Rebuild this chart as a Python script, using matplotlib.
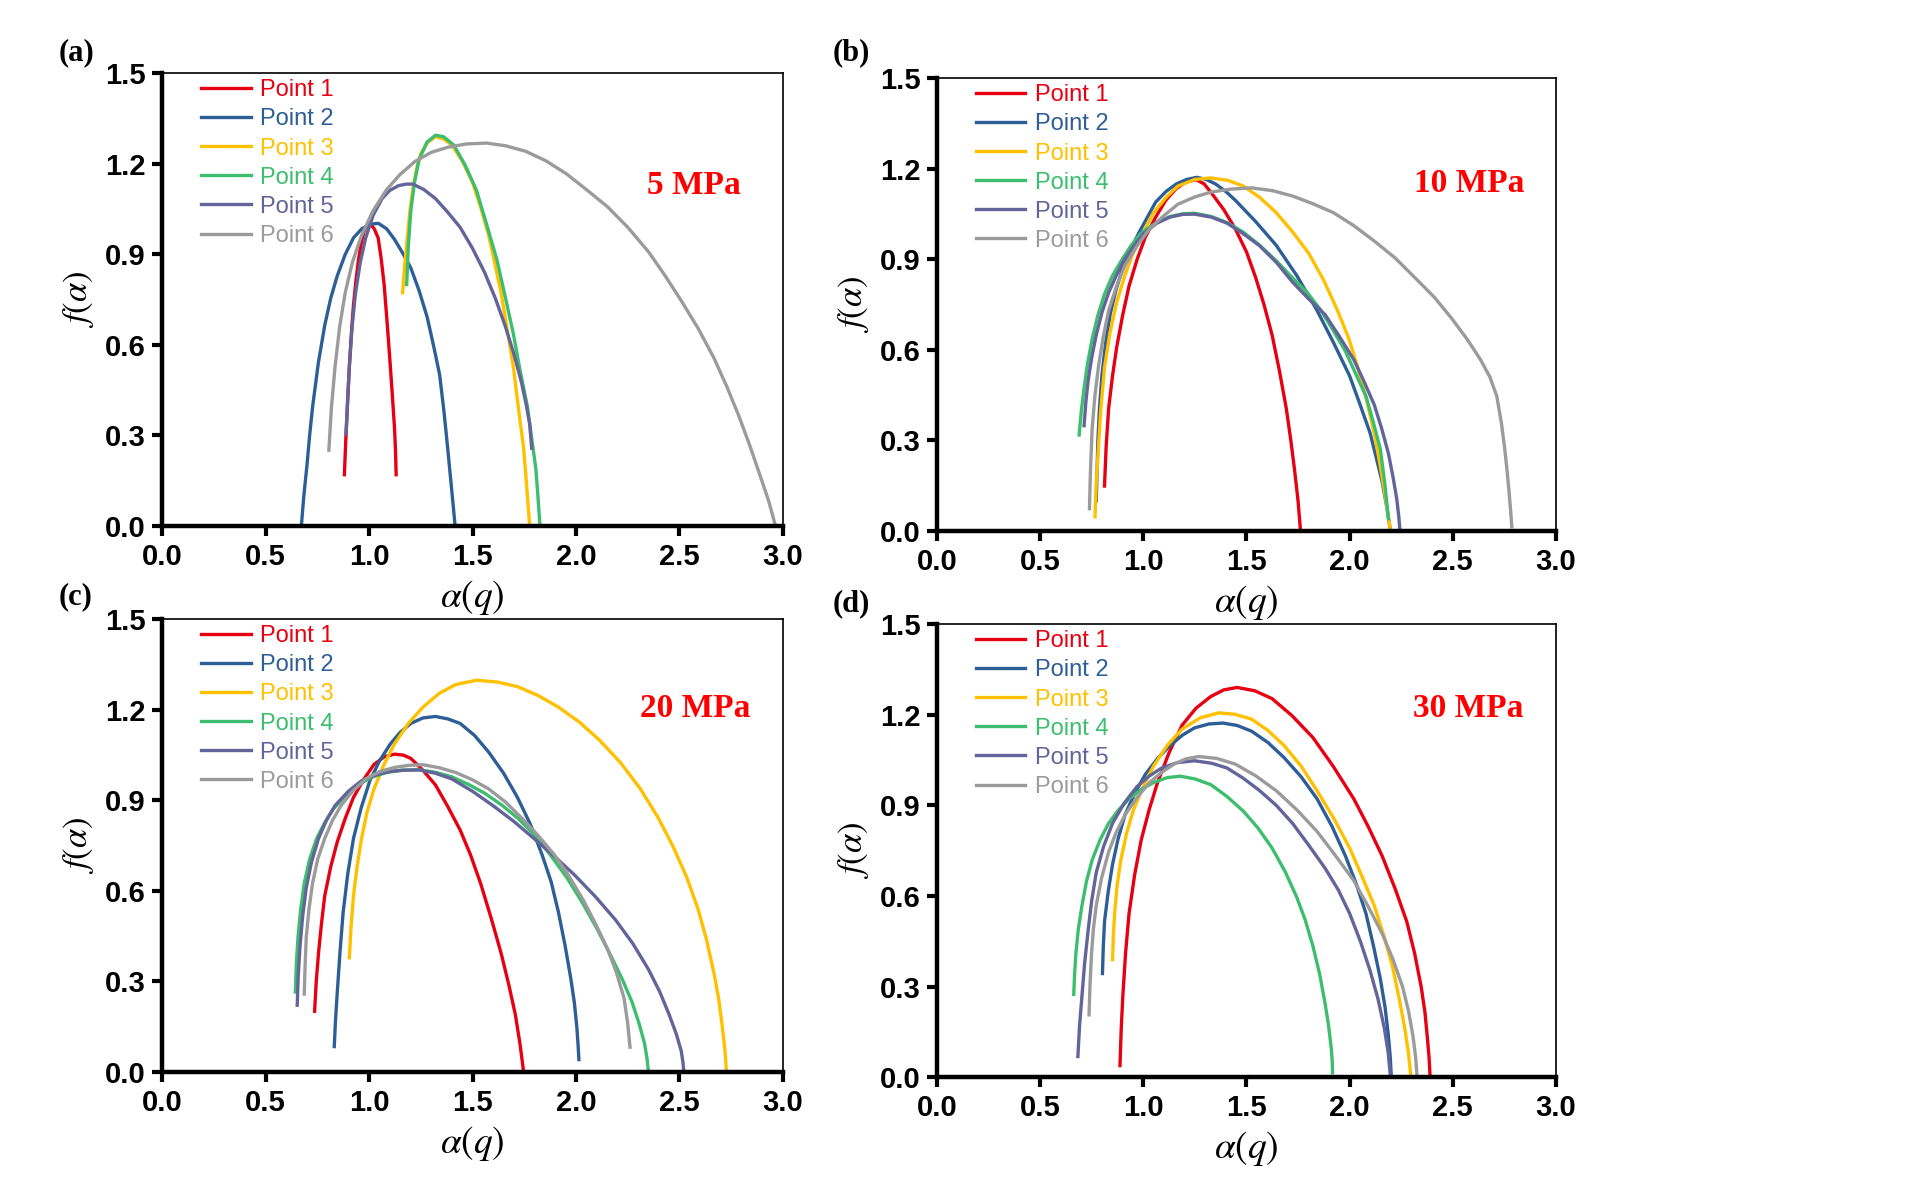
import numpy as np
import matplotlib
matplotlib.use('Agg')
import matplotlib.pyplot as plt

plt.rcParams['mathtext.fontset'] = 'stix'

labels = ['Point 1', 'Point 2', 'Point 3', 'Point 4', 'Point 5', 'Point 6']
colors = ['#E60012', '#2E5E96', '#FFC000', '#3CBE6E', '#62649A', '#9B9B9B']

# ---- (a) 5 MPa ----
a5_p1_x = [0.881, 0.885, 0.889, 0.897, 0.905, 0.915, 0.925, 0.937, 0.949, 0.962, 0.974, 0.986, 0.998, 1.010, 1.025, 1.044, 1.058, 1.073, 1.088, 1.103, 1.113, 1.123, 1.128, 1.131]
a5_p1_y = [0.170, 0.240, 0.305, 0.420, 0.529, 0.640, 0.733, 0.815, 0.882, 0.935, 0.972, 0.992, 1.000, 0.998, 0.985, 0.955, 0.890, 0.800, 0.670, 0.529, 0.430, 0.326, 0.250, 0.170]
a5_p2_x = [0.673, 0.685, 0.700, 0.713, 0.727, 0.755, 0.786, 0.815, 0.846, 0.885, 0.925, 0.965, 1.005, 1.045, 1.085, 1.123, 1.162, 1.202, 1.242, 1.281, 1.311, 1.341, 1.362, 1.380, 1.398, 1.416]
a5_p2_y = [0.000, 0.100, 0.200, 0.300, 0.393, 0.540, 0.665, 0.755, 0.828, 0.900, 0.955, 0.985, 1.000, 1.003, 0.985, 0.950, 0.905, 0.855, 0.780, 0.692, 0.600, 0.502, 0.380, 0.258, 0.130, 0.000]
a5_p3_x = [1.162, 1.172, 1.182, 1.197, 1.212, 1.232, 1.251, 1.285, 1.321, 1.360, 1.400, 1.450, 1.499, 1.540, 1.578, 1.608, 1.638, 1.668, 1.697, 1.722, 1.747, 1.762, 1.776]
a5_p3_y = [0.773, 0.860, 0.936, 1.040, 1.120, 1.190, 1.235, 1.272, 1.290, 1.283, 1.262, 1.210, 1.140, 1.055, 0.963, 0.870, 0.773, 0.650, 0.529, 0.390, 0.258, 0.130, 0.000]
a5_p4_x = [1.182, 1.190, 1.202, 1.220, 1.242, 1.280, 1.321, 1.360, 1.410, 1.465, 1.519, 1.568, 1.618, 1.658, 1.697, 1.730, 1.766, 1.786, 1.806, 1.816, 1.826]
a5_p4_y = [0.800, 0.930, 1.045, 1.140, 1.215, 1.272, 1.295, 1.290, 1.262, 1.195, 1.113, 1.000, 0.882, 0.760, 0.638, 0.515, 0.393, 0.290, 0.190, 0.100, 0.000]
a5_p5_x = [0.889, 0.897, 0.905, 0.918, 0.935, 0.958, 0.984, 1.020, 1.063, 1.100, 1.143, 1.180, 1.212, 1.265, 1.321, 1.380, 1.440, 1.500, 1.558, 1.610, 1.657, 1.700, 1.737, 1.760, 1.776, 1.786]
a5_p5_y = [0.305, 0.420, 0.529, 0.660, 0.773, 0.875, 0.955, 1.030, 1.085, 1.112, 1.128, 1.133, 1.133, 1.115, 1.085, 1.040, 0.990, 0.920, 0.841, 0.755, 0.665, 0.570, 0.475, 0.400, 0.339, 0.258]
a5_p6_x = [0.806, 0.818, 0.836, 0.858, 0.885, 0.920, 0.964, 1.020, 1.083, 1.150, 1.222, 1.300, 1.380, 1.470, 1.568, 1.660, 1.756, 1.855, 1.954, 2.050, 2.152, 2.250, 2.350, 2.430, 2.509, 2.590, 2.667, 2.730, 2.786, 2.838, 2.885, 2.930, 2.964]
a5_p6_y = [0.251, 0.390, 0.529, 0.660, 0.773, 0.875, 0.963, 1.045, 1.113, 1.165, 1.208, 1.238, 1.255, 1.266, 1.269, 1.260, 1.242, 1.210, 1.167, 1.115, 1.058, 0.990, 0.909, 0.830, 0.746, 0.655, 0.556, 0.460, 0.366, 0.270, 0.176, 0.085, 0.000]

# ---- (b) 10 MPa ----
b10_p1_x = [0.812, 0.820, 0.832, 0.850, 0.871, 0.900, 0.931, 0.970, 1.010, 1.060, 1.109, 1.160, 1.208, 1.257, 1.295, 1.327, 1.390, 1.446, 1.500, 1.545, 1.585, 1.624, 1.660, 1.693, 1.715, 1.733, 1.750, 1.762]
b10_p1_y = [0.149, 0.280, 0.406, 0.510, 0.609, 0.715, 0.812, 0.900, 0.974, 1.040, 1.096, 1.135, 1.157, 1.164, 1.150, 1.123, 1.065, 1.001, 0.925, 0.839, 0.750, 0.650, 0.530, 0.406, 0.300, 0.203, 0.100, 0.000]
b10_p2_x = [0.772, 0.776, 0.780, 0.788, 0.800, 0.818, 0.840, 0.868, 0.900, 0.940, 0.980, 1.020, 1.060, 1.110, 1.160, 1.210, 1.260, 1.305, 1.350, 1.400, 1.446, 1.545, 1.644, 1.745, 1.842, 1.925, 2.000, 2.050, 2.099, 2.130, 2.158, 2.180, 2.198]
b10_p2_y = [0.100, 0.200, 0.300, 0.410, 0.520, 0.625, 0.720, 0.800, 0.870, 0.935, 0.990, 1.040, 1.090, 1.125, 1.150, 1.165, 1.172, 1.165, 1.150, 1.125, 1.096, 1.025, 0.947, 0.845, 0.731, 0.620, 0.514, 0.420, 0.325, 0.240, 0.162, 0.080, 0.000]
b10_p3_x = [0.766, 0.772, 0.782, 0.795, 0.812, 0.838, 0.871, 0.910, 0.950, 1.000, 1.050, 1.110, 1.168, 1.250, 1.327, 1.410, 1.485, 1.565, 1.644, 1.725, 1.802, 1.875, 1.941, 1.995, 2.040, 2.080, 2.119, 2.145, 2.168, 2.185, 2.198]
b10_p3_y = [0.047, 0.160, 0.271, 0.410, 0.541, 0.655, 0.758, 0.845, 0.920, 0.990, 1.055, 1.105, 1.143, 1.165, 1.170, 1.162, 1.143, 1.105, 1.055, 0.990, 0.920, 0.830, 0.731, 0.640, 0.541, 0.440, 0.325, 0.230, 0.135, 0.060, 0.000]
b10_p4_x = [0.689, 0.700, 0.713, 0.730, 0.752, 0.780, 0.812, 0.850, 0.891, 0.940, 0.990, 1.060, 1.129, 1.190, 1.248, 1.330, 1.406, 1.485, 1.564, 1.645, 1.723, 1.795, 1.861, 1.920, 1.980, 2.030, 2.079, 2.115, 2.149, 2.170, 2.188]
b10_p4_y = [0.318, 0.400, 0.474, 0.555, 0.636, 0.715, 0.785, 0.845, 0.893, 0.945, 0.988, 1.020, 1.042, 1.051, 1.053, 1.042, 1.022, 0.990, 0.947, 0.895, 0.839, 0.790, 0.731, 0.665, 0.595, 0.520, 0.447, 0.360, 0.271, 0.160, 0.041]
b10_p5_x = [0.713, 0.722, 0.733, 0.750, 0.772, 0.800, 0.832, 0.868, 0.905, 0.950, 1.000, 1.065, 1.129, 1.190, 1.248, 1.330, 1.406, 1.485, 1.564, 1.645, 1.723, 1.800, 1.881, 1.950, 2.020, 2.070, 2.119, 2.155, 2.188, 2.210, 2.228, 2.238, 2.244]
b10_p5_y = [0.349, 0.430, 0.500, 0.575, 0.650, 0.725, 0.790, 0.845, 0.895, 0.940, 0.985, 1.020, 1.040, 1.049, 1.050, 1.040, 1.020, 0.985, 0.945, 0.890, 0.825, 0.770, 0.717, 0.645, 0.568, 0.495, 0.419, 0.340, 0.257, 0.180, 0.108, 0.050, 0.000]
b10_p6_x = [0.739, 0.744, 0.752, 0.765, 0.782, 0.805, 0.832, 0.870, 0.911, 0.970, 1.030, 1.100, 1.168, 1.250, 1.327, 1.425, 1.525, 1.625, 1.723, 1.820, 1.921, 2.020, 2.119, 2.220, 2.317, 2.410, 2.495, 2.570, 2.634, 2.680, 2.713, 2.735, 2.752, 2.763, 2.772, 2.780, 2.786]
b10_p6_y = [0.074, 0.200, 0.338, 0.445, 0.541, 0.640, 0.731, 0.810, 0.880, 0.945, 1.001, 1.045, 1.083, 1.107, 1.123, 1.133, 1.137, 1.128, 1.110, 1.085, 1.055, 1.012, 0.961, 0.905, 0.839, 0.775, 0.704, 0.635, 0.568, 0.510, 0.447, 0.360, 0.271, 0.200, 0.135, 0.070, 0.014]

# ---- (c) 20 MPa ----
c20_p1_x = [0.737, 0.745, 0.756, 0.770, 0.786, 0.815, 0.846, 0.885, 0.925, 0.975, 1.024, 1.075, 1.123, 1.165, 1.202, 1.260, 1.321, 1.380, 1.440, 1.490, 1.539, 1.590, 1.638, 1.675, 1.707, 1.730, 1.747]
c20_p1_y = [0.201, 0.300, 0.394, 0.490, 0.584, 0.680, 0.761, 0.840, 0.910, 0.970, 1.019, 1.045, 1.053, 1.050, 1.039, 1.000, 0.951, 0.880, 0.802, 0.720, 0.625, 0.510, 0.394, 0.290, 0.190, 0.090, 0.000]
c20_p2_x = [0.832, 0.838, 0.846, 0.860, 0.875, 0.898, 0.925, 0.962, 1.004, 1.050, 1.103, 1.150, 1.202, 1.260, 1.321, 1.380, 1.440, 1.510, 1.578, 1.650, 1.717, 1.780, 1.836, 1.880, 1.915, 1.947, 1.974, 1.992, 2.004, 2.010, 2.014]
c20_p2_y = [0.084, 0.170, 0.258, 0.400, 0.530, 0.660, 0.774, 0.875, 0.965, 1.030, 1.087, 1.125, 1.155, 1.173, 1.178, 1.170, 1.155, 1.115, 1.060, 0.990, 0.910, 0.820, 0.720, 0.630, 0.530, 0.420, 0.313, 0.230, 0.149, 0.090, 0.041]
c20_p3_x = [0.905, 0.913, 0.925, 0.942, 0.964, 0.990, 1.024, 1.070, 1.123, 1.190, 1.261, 1.340, 1.420, 1.519, 1.620, 1.717, 1.815, 1.915, 2.015, 2.113, 2.215, 2.311, 2.395, 2.469, 2.535, 2.588, 2.630, 2.667, 2.690, 2.707, 2.720, 2.727]
c20_p3_y = [0.378, 0.480, 0.584, 0.680, 0.774, 0.860, 0.938, 1.015, 1.087, 1.155, 1.209, 1.255, 1.284, 1.298, 1.292, 1.277, 1.248, 1.209, 1.160, 1.100, 1.025, 0.938, 0.845, 0.747, 0.645, 0.543, 0.440, 0.326, 0.240, 0.149, 0.070, 0.000]
c20_p4_x = [0.644, 0.649, 0.657, 0.670, 0.687, 0.713, 0.747, 0.785, 0.826, 0.885, 0.945, 1.015, 1.083, 1.160, 1.242, 1.320, 1.400, 1.480, 1.558, 1.640, 1.717, 1.800, 1.875, 1.955, 2.034, 2.105, 2.172, 2.225, 2.271, 2.305, 2.331, 2.343, 2.350]
c20_p4_y = [0.265, 0.360, 0.448, 0.540, 0.625, 0.705, 0.774, 0.825, 0.870, 0.915, 0.951, 0.977, 0.992, 1.000, 1.001, 0.993, 0.978, 0.953, 0.924, 0.885, 0.842, 0.785, 0.720, 0.645, 0.557, 0.470, 0.380, 0.305, 0.231, 0.160, 0.095, 0.045, 0.000]
c20_p5_x = [0.653, 0.658, 0.667, 0.680, 0.697, 0.722, 0.756, 0.795, 0.836, 0.900, 0.964, 1.035, 1.103, 1.170, 1.242, 1.320, 1.400, 1.500, 1.598, 1.700, 1.796, 1.895, 1.994, 2.095, 2.192, 2.275, 2.350, 2.405, 2.450, 2.485, 2.509, 2.517, 2.521]
c20_p5_y = [0.221, 0.320, 0.421, 0.520, 0.611, 0.695, 0.774, 0.835, 0.883, 0.930, 0.965, 0.985, 0.996, 1.000, 1.001, 0.990, 0.971, 0.930, 0.883, 0.830, 0.774, 0.715, 0.652, 0.580, 0.503, 0.425, 0.340, 0.265, 0.190, 0.125, 0.068, 0.030, 0.000]
c20_p6_x = [0.687, 0.691, 0.697, 0.710, 0.727, 0.752, 0.786, 0.823, 0.865, 0.920, 0.984, 1.050, 1.123, 1.190, 1.261, 1.340, 1.420, 1.500, 1.578, 1.660, 1.737, 1.815, 1.895, 1.965, 2.034, 2.095, 2.152, 2.195, 2.232, 2.250, 2.261]
c20_p6_y = [0.258, 0.350, 0.448, 0.540, 0.625, 0.705, 0.774, 0.833, 0.883, 0.930, 0.971, 0.995, 1.009, 1.016, 1.018, 1.008, 0.992, 0.968, 0.938, 0.894, 0.842, 0.785, 0.720, 0.650, 0.571, 0.490, 0.408, 0.330, 0.245, 0.160, 0.082]

# ---- (d) 30 MPa ----
d30_p1_x = [0.887, 0.893, 0.901, 0.914, 0.931, 0.958, 0.990, 1.028, 1.069, 1.125, 1.188, 1.255, 1.327, 1.390, 1.455, 1.540, 1.624, 1.720, 1.822, 1.920, 2.020, 2.090, 2.158, 2.220, 2.277, 2.315, 2.347, 2.365, 2.376, 2.385, 2.390]
d30_p1_y = [0.038, 0.160, 0.271, 0.410, 0.542, 0.670, 0.786, 0.885, 0.976, 1.075, 1.166, 1.222, 1.261, 1.283, 1.291, 1.280, 1.254, 1.198, 1.125, 1.030, 0.922, 0.830, 0.732, 0.625, 0.515, 0.410, 0.298, 0.215, 0.136, 0.065, 0.000]
d30_p2_x = [0.802, 0.806, 0.812, 0.830, 0.851, 0.878, 0.911, 0.958, 1.010, 1.068, 1.129, 1.190, 1.248, 1.318, 1.386, 1.455, 1.525, 1.605, 1.683, 1.765, 1.842, 1.915, 1.980, 2.032, 2.079, 2.117, 2.149, 2.172, 2.188, 2.197, 2.202]
d30_p2_y = [0.343, 0.430, 0.515, 0.615, 0.705, 0.790, 0.868, 0.940, 1.003, 1.055, 1.098, 1.133, 1.157, 1.170, 1.173, 1.165, 1.146, 1.108, 1.058, 0.995, 0.922, 0.830, 0.732, 0.640, 0.542, 0.430, 0.325, 0.230, 0.136, 0.065, 0.000]
d30_p3_x = [0.851, 0.855, 0.861, 0.873, 0.891, 0.918, 0.950, 0.998, 1.050, 1.115, 1.188, 1.275, 1.366, 1.445, 1.525, 1.605, 1.683, 1.765, 1.842, 1.925, 2.000, 2.060, 2.119, 2.165, 2.208, 2.240, 2.267, 2.285, 2.297]
d30_p3_y = [0.389, 0.470, 0.542, 0.635, 0.719, 0.805, 0.881, 0.960, 1.031, 1.098, 1.153, 1.190, 1.207, 1.202, 1.186, 1.148, 1.098, 1.030, 0.949, 0.855, 0.759, 0.665, 0.569, 0.470, 0.366, 0.260, 0.163, 0.080, 0.000]
d30_p4_x = [0.663, 0.667, 0.673, 0.685, 0.703, 0.725, 0.752, 0.790, 0.832, 0.880, 0.931, 0.990, 1.050, 1.115, 1.178, 1.250, 1.327, 1.405, 1.485, 1.556, 1.624, 1.688, 1.743, 1.785, 1.822, 1.855, 1.881, 1.898, 1.911, 1.916, 1.917]
d30_p4_y = [0.274, 0.340, 0.407, 0.490, 0.569, 0.650, 0.719, 0.785, 0.841, 0.885, 0.922, 0.953, 0.976, 0.992, 0.997, 0.988, 0.969, 0.930, 0.881, 0.825, 0.759, 0.680, 0.597, 0.520, 0.434, 0.340, 0.244, 0.170, 0.095, 0.050, 0.014]
d30_p5_x = [0.683, 0.691, 0.703, 0.716, 0.733, 0.750, 0.772, 0.808, 0.851, 0.908, 0.970, 1.030, 1.089, 1.165, 1.248, 1.330, 1.406, 1.485, 1.564, 1.645, 1.723, 1.800, 1.881, 1.945, 2.000, 2.052, 2.099, 2.137, 2.168, 2.187, 2.198]
d30_p5_y = [0.068, 0.170, 0.271, 0.380, 0.488, 0.585, 0.678, 0.765, 0.841, 0.908, 0.963, 0.998, 1.024, 1.042, 1.048, 1.040, 1.024, 0.990, 0.949, 0.900, 0.841, 0.770, 0.692, 0.620, 0.542, 0.450, 0.353, 0.260, 0.163, 0.080, 0.000]
d30_p6_x = [0.737, 0.742, 0.749, 0.758, 0.772, 0.798, 0.832, 0.868, 0.911, 0.968, 1.030, 1.090, 1.149, 1.205, 1.267, 1.355, 1.446, 1.545, 1.644, 1.745, 1.842, 1.930, 2.020, 2.090, 2.158, 2.210, 2.257, 2.285, 2.307, 2.320, 2.327]
d30_p6_y = [0.206, 0.310, 0.407, 0.490, 0.569, 0.660, 0.746, 0.810, 0.868, 0.925, 0.976, 1.010, 1.037, 1.054, 1.062, 1.056, 1.037, 0.998, 0.949, 0.885, 0.814, 0.735, 0.651, 0.565, 0.475, 0.390, 0.298, 0.220, 0.136, 0.065, 0.000]

panels = [
    ('(a)', '5 MPa', [(a5_p1_x, a5_p1_y), (a5_p2_x, a5_p2_y), (a5_p3_x, a5_p3_y),
                      (a5_p4_x, a5_p4_y), (a5_p5_x, a5_p5_y), (a5_p6_x, a5_p6_y)]),
    ('(b)', '10 MPa', [(b10_p1_x, b10_p1_y), (b10_p2_x, b10_p2_y), (b10_p3_x, b10_p3_y),
                       (b10_p4_x, b10_p4_y), (b10_p5_x, b10_p5_y), (b10_p6_x, b10_p6_y)]),
    ('(c)', '20 MPa', [(c20_p1_x, c20_p1_y), (c20_p2_x, c20_p2_y), (c20_p3_x, c20_p3_y),
                       (c20_p4_x, c20_p4_y), (c20_p5_x, c20_p5_y), (c20_p6_x, c20_p6_y)]),
    ('(d)', '30 MPa', [(d30_p1_x, d30_p1_y), (d30_p2_x, d30_p2_y), (d30_p3_x, d30_p3_y),
                       (d30_p4_x, d30_p4_y), (d30_p5_x, d30_p5_y), (d30_p6_x, d30_p6_y)]),
]

# axes boxes in figure fraction, panel tag position (px) and MPa text position (data)
boxes = [[0.0844, 0.5561, 0.3234, 0.382],
         [0.4880, 0.5519, 0.3224, 0.382],
         [0.0844, 0.0954, 0.3234, 0.382],
         [0.4880, 0.0911, 0.3224, 0.382]]
tag_pos = [(76, 53), (851, 53), (76, 597), (851, 604)]
mpa_pos = [(2.57, 1.13), (2.58, 1.15), (2.575, 1.205), (2.574, 1.22)]

narrow = ['Liberation Sans Narrow', 'Liberation Sans', 'DejaVu Sans']
serif = ['Liberation Serif', 'DejaVu Serif']

fig = plt.figure(figsize=(19.2, 11.85), dpi=100)

for i, (tag, mpa, curves) in enumerate(panels):
    ax = fig.add_axes(boxes[i])
    handles = []
    for (x, y), c, lab in zip(curves, colors, labels):
        h, = ax.plot(x, y, color=c, lw=2.4, label=lab, solid_joinstyle='round')
        handles.append(h)
    ax.set_xlim(0, 3.0)
    ax.set_ylim(0, 1.5)
    ax.set_xticks(np.arange(0, 3.01, 0.5))
    ax.set_yticks(np.arange(0, 1.51, 0.3))
    ax.set_xticklabels(['%.1f' % v for v in np.arange(0, 3.01, 0.5)])
    ax.set_yticklabels(['%.1f' % v for v in np.arange(0, 1.51, 0.3)])
    for lbl in ax.get_xticklabels() + ax.get_yticklabels():
        lbl.set_family(narrow)
        lbl.set_fontweight('bold')
        lbl.set_fontsize(21)
    ax.tick_params(direction='out', length=7, width=3, pad=5)
    ax.spines['left'].set_linewidth(3.2)
    ax.spines['bottom'].set_linewidth(3.2)
    ax.spines['top'].set_linewidth(1.2)
    ax.spines['right'].set_linewidth(1.2)
    ax.set_xlabel(r'$\alpha\left(q\right)$', fontsize=27, labelpad=5)
    ax.set_ylabel(r'$f\left(\alpha\right)$', fontsize=25, labelpad=6)
    leg = ax.legend(handles=handles, loc='upper left', frameon=False,
                    prop={'family': narrow, 'size': 17}, handlelength=2.1,
                    handletextpad=0.4, labelspacing=0.3,
                    borderaxespad=0.2, bbox_to_anchor=(0.04, 1.018))
    for t, c in zip(leg.get_texts(), colors):
        t.set_color(c)
    ax.text(mpa_pos[i][0], mpa_pos[i][1], mpa, color='#FF0000', fontsize=24,
            fontweight='bold', family=serif, ha='center', va='center')
    fig.text(tag_pos[i][0] / 1920, 1 - tag_pos[i][1] / 1185, tag, fontsize=22,
             fontweight='bold', family=serif, ha='center', va='center')

fig.savefig('out.png', dpi=100)
